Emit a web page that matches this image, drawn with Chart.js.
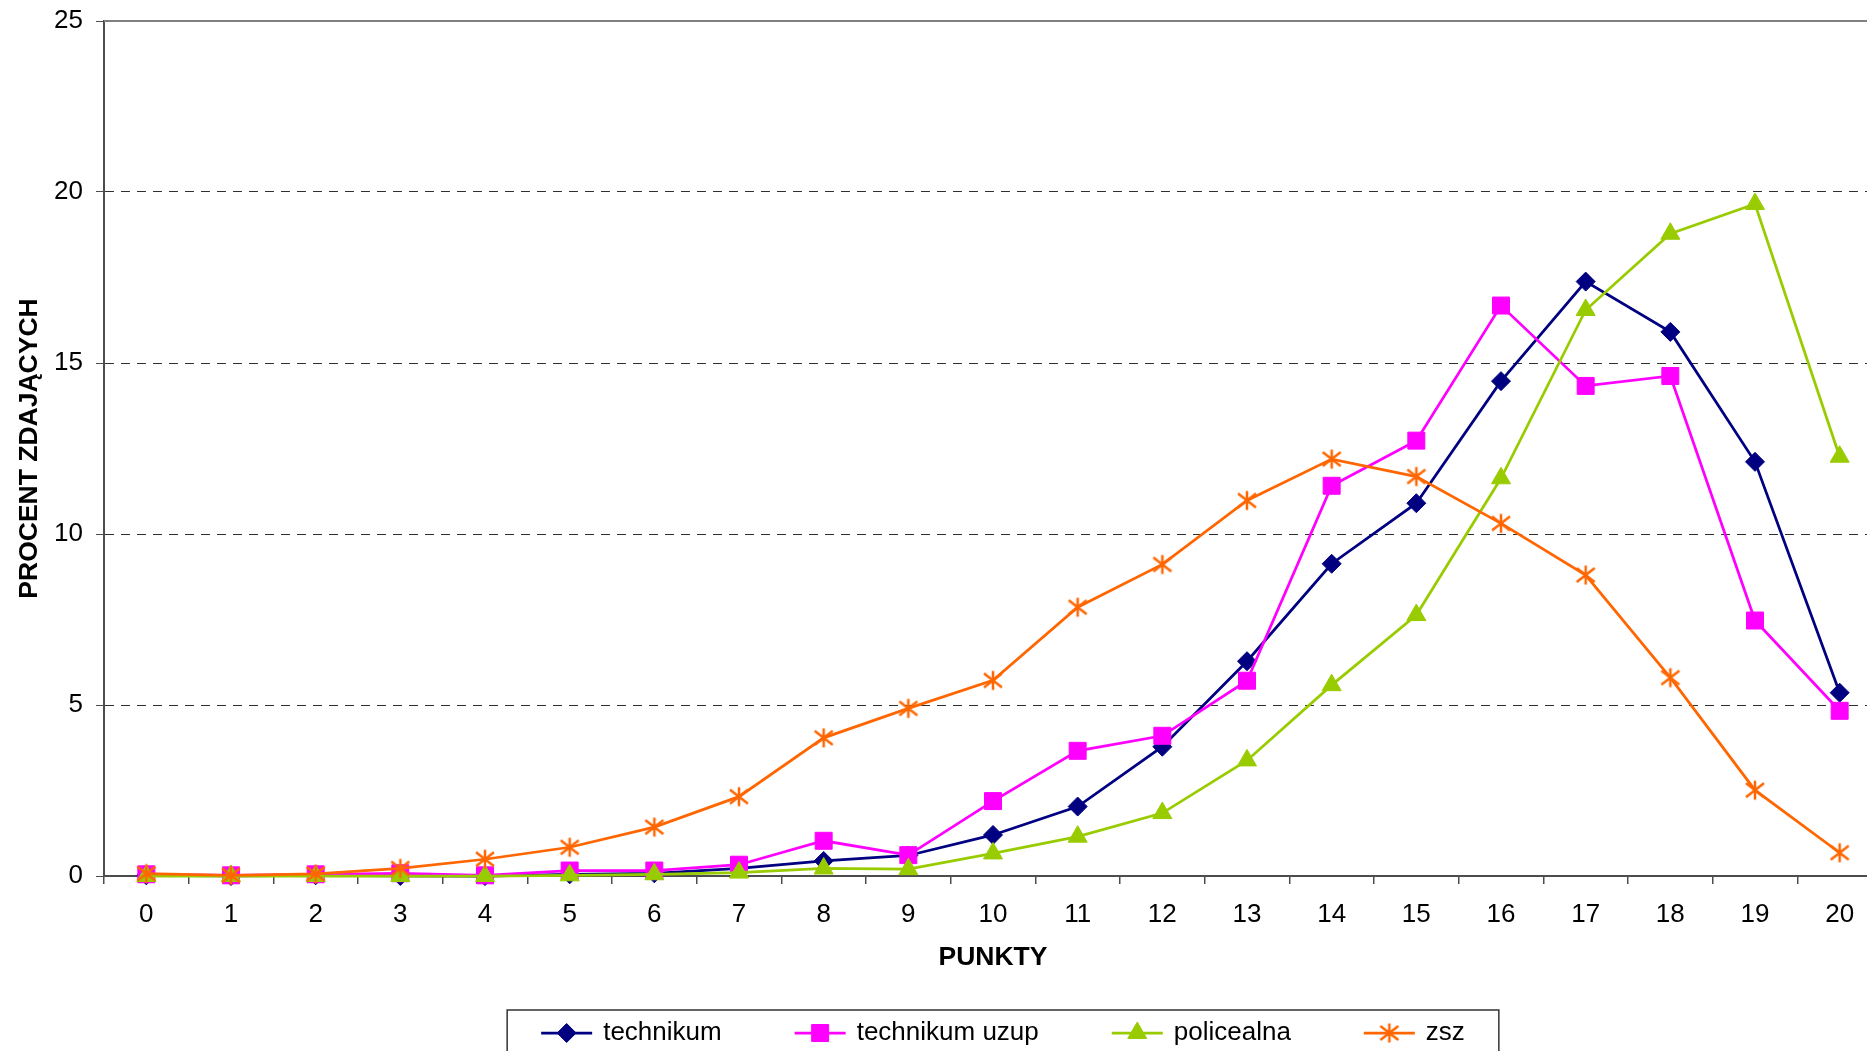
<!DOCTYPE html>
<html>
<head>
<meta charset="utf-8">
<script src="https://cdn.jsdelivr.net/npm/chart.js@4.4.1/dist/chart.umd.min.js"></script>
<style>
  html, body { margin: 0; padding: 0; overflow: hidden; background: #fff; }
  #wrap { width: 1867px; height: 1051px; overflow: hidden; }
  #chart { display: block; }
</style>
</head>
<body>
<!-- plot area runs a little past the right edge of the page, as in the original -->
<div id="wrap"><canvas id="chart" width="1882" height="1051"></canvas></div>
<script>
// Punkty (x axis categories)
const points = ['0', '1', '2', '3', '4', '5', '6', '7', '8', '9', '10',
                '11', '12', '13', '14', '15', '16', '17', '18', '19', '20'];
const yTicks = [0, 5, 10, 15, 20, 25];

// Procent zdających per school type
const technikum = [0.02, 0, 0.02, 0, 0, 0.05, 0.08, 0.22, 0.44, 0.6, 1.2,
                   2.03, 3.78, 6.28, 9.13, 10.9, 14.47, 17.38, 15.91, 12.11, 5.36];
const technikumUzup = [0.05, 0.02, 0.05, 0.08, 0.02, 0.16, 0.16, 0.33, 1.03, 0.61, 2.19,
                       3.66, 4.1, 5.71, 11.41, 12.73, 16.68, 14.33, 14.62, 7.47, 4.83];
const policealna = [0, 0, 0, 0, 0, 0.02, 0.05, 0.1, 0.22, 0.2, 0.66,
                    1.15, 1.84, 3.38, 5.58, 7.63, 11.63, 16.55, 18.78, 19.65, 12.26];
const zsz = [0.07, 0.02, 0.06, 0.22, 0.49, 0.84, 1.43, 2.32, 4.04, 4.9, 5.72,
             7.86, 9.11, 10.98, 12.19, 11.68, 10.31, 8.8, 5.8, 2.51, 0.68];

const FONT = "'Liberation Sans', Arial, sans-serif";

// Excel style asterisk marker (vertical bar + X)
function makeStar(color) {
  const c = document.createElement('canvas');
  c.width = 22;
  c.height = 22;
  const g = c.getContext('2d');
  g.strokeStyle = color;
  g.lineWidth = 2.5;
  g.beginPath();
  g.moveTo(11, 1.5); g.lineTo(11, 20.5);
  g.moveTo(2, 4); g.lineTo(20, 18);
  g.moveTo(20, 4); g.lineTo(2, 18);
  g.stroke();
  return c;
}

function series(label, data, color, pointStyle, radius, order) {
  return {
    label: label,
    data: data,
    borderColor: color,
    backgroundColor: color,
    pointBackgroundColor: color,
    pointBorderColor: color,
    borderWidth: 2.75,
    pointStyle: pointStyle,
    pointRadius: radius,
    pointHoverRadius: radius,
    pointBorderWidth: 1,
    tension: 0,
    clip: false,
    order: order
  };
}

// Solid frame line on top of the plot area
const topFrame = {
  id: 'topFrame',
  afterDraw(chart) {
    const {ctx, chartArea} = chart;
    ctx.save();
    ctx.strokeStyle = '#808080';
    ctx.lineWidth = 2;
    ctx.beginPath();
    ctx.moveTo(chartArea.left, chartArea.top);
    ctx.lineTo(chartArea.right, chartArea.top);
    ctx.stroke();
    ctx.restore();
  }
};

// Legend in a framed box below the axis title
const boxLegend = {
  id: 'boxLegend',
  afterDraw(chart) {
    const {ctx, chartArea} = chart;
    const sets = chart.data.datasets;
    const sample = 51, textGap = 11, gap = 73, side = 34;

    ctx.save();
    ctx.font = '26px ' + FONT;
    const widths = sets.map(ds => sample + textGap + ctx.measureText(ds.label).width);
    const inner = widths.reduce((a, b) => a + b, 0) + gap * (sets.length - 1);
    const boxW = inner + side * 2;
    const left = (chartArea.left + chartArea.right) / 2 + 10 - boxW / 2;
    const top = chart.scales.x.bottom + 10;
    const cy = top + 23;

    ctx.strokeStyle = '#333';
    ctx.lineWidth = 1.5;
    ctx.strokeRect(left, top, boxW, 60);

    let x = left + side;
    sets.forEach((ds, i) => {
      ctx.strokeStyle = ds.borderColor;
      ctx.lineWidth = ds.borderWidth;
      ctx.beginPath();
      ctx.moveTo(x, cy);
      ctx.lineTo(x + sample, cy);
      ctx.stroke();

      ctx.fillStyle = ds.pointBackgroundColor;
      ctx.strokeStyle = ds.pointBorderColor;
      ctx.lineWidth = ds.pointBorderWidth;
      Chart.helpers.drawPoint(ctx, {
        pointStyle: ds.pointStyle,
        radius: ds.pointRadius,
        borderWidth: ds.pointBorderWidth,
        rotation: 0
      }, x + sample / 2, cy);

      ctx.fillStyle = '#000';
      ctx.textAlign = 'left';
      ctx.textBaseline = 'middle';
      ctx.fillText(ds.label, x + sample + textGap, cy);
      x += widths[i] + gap;
    });
    ctx.restore();
  }
};

const ctx = document.getElementById('chart').getContext('2d');
new Chart(ctx, {
  type: 'line',
  data: {
    labels: points,
    datasets: [
      series('technikum', technikum, '#000080', 'rectRot', 9.5, 3),
      series('technikum uzup', technikumUzup, '#FF00FF', 'rect', 12, 2),
      series('policealna', policealna, '#99CC00', 'triangle', 11, 1),
      series('zsz', zsz, '#FF6600', makeStar('#FF6600'), 11, 0)
    ]
  },
  options: {
    responsive: false,
    animation: false,
    devicePixelRatio: 1,
    layout: {
      autoPadding: false,
      padding: { top: 21, right: 0, bottom: 51, left: 0 }
    },
    plugins: {
      legend: { display: false },
      tooltip: { enabled: false }
    },
    scales: {
      x: {
        type: 'category',
        offset: true,
        afterFit: function(scale) {
          scale.height = 124;
          scale.paddingLeft = 0;
          scale.paddingRight = 0;
        },
        grid: {
          offset: true,
          drawOnChartArea: false,
          drawTicks: true,
          tickLength: 8,
          color: '#4d4d4d',
          lineWidth: 1.5
        },
        border: { color: '#4d4d4d', width: 2 },
        ticks: {
          autoSkip: false,
          maxRotation: 0,
          padding: 15,
          color: '#000',
          font: { family: FONT, size: 26 }
        },
        title: {
          display: true,
          text: 'PUNKTY',
          color: '#000',
          font: { family: FONT, size: 26.5, weight: 'bold' },
          padding: { top: 0, bottom: 26 }
        }
      },
      y: {
        min: 0,
        max: 25,
        afterFit: function(scale) {
          scale.width = 104;
          scale.paddingTop = 0;
          scale.paddingBottom = 0;
        },
        afterBuildTicks: function(scale) {
          scale.ticks = yTicks.map(v => ({ value: v }));
        },
        grid: {
          color: '#303030',
          lineWidth: 1,
          tickLength: 8,
          tickColor: '#4d4d4d',
          tickBorderDash: []
        },
        border: { color: '#4d4d4d', width: 2, dash: [9, 7] },
        ticks: {
          padding: 13,
          color: '#000',
          font: { family: FONT, size: 26 }
        },
        title: {
          display: true,
          text: 'PROCENT ZDAJĄCYCH',
          color: '#000',
          font: { family: FONT, size: 26.5, weight: 'bold' },
          padding: { top: 14, bottom: 0 }
        }
      }
    }
  },
  plugins: [topFrame, boxLegend]
});
</script>
</body>
</html>
